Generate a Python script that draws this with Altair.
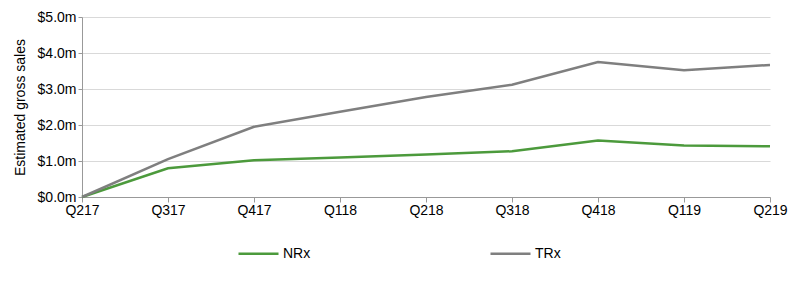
import altair as alt
import pandas as pd

quarters = ["Q217", "Q317", "Q417", "Q118", "Q218", "Q318", "Q418", "Q119", "Q219"]
nrx = [0.0, 0.80, 1.02, 1.10, 1.18, 1.27, 1.57, 1.43, 1.41]
trx = [0.0, 1.05, 1.95, 2.37, 2.78, 3.12, 3.75, 3.52, 3.67]
series = ["NRx", "TRx"]
colors = ["#4C9A3C", "#7F7F7F"]

rows = []
for q, a, b in zip(quarters, nrx, trx):
    rows.append({"quarter": q, "series": "NRx", "value": a})
    rows.append({"quarter": q, "series": "TRx", "value": b})
df = pd.DataFrame(rows)

FONT = "Liberation Sans, Arial, sans-serif"
FS = 14

chart = alt.Chart(df).mark_line(strokeWidth=2.5).encode(
    x=alt.X("quarter:N", sort=quarters,
            scale=alt.Scale(type="point", padding=0),
            axis=alt.Axis(title=None, labelAngle=0, grid=False, ticks=True,
                          tickSize=5, tickColor="#999999", domainColor="#999999",
                          labelFontSize=FS, labelColor="#000000", labelPadding=1,
                          labelFont=FONT)),
    y=alt.Y("value:Q", scale=alt.Scale(domain=[0, 5]),
            axis=alt.Axis(title="Estimated gross sales", values=[0, 1, 2, 3, 4, 5],
                          labelExpr="'$' + format(datum.value, '.1f') + 'm'",
                          grid=True, gridColor="#d9d9d9", ticks=True, tickSize=4,
                          tickColor="#999999", domainColor="#999999",
                          labelFontSize=FS, labelColor="#000000", labelFont=FONT,
                          titleFont=FONT, titleFontSize=FS, titleFontWeight="normal",
                          titleColor="#000000", titlePadding=10)),
    color=alt.Color("series:N", scale=alt.Scale(domain=series, range=colors),
                    legend=alt.Legend(title=None, orient="none", direction="horizontal",
                                      legendX=155, legendY=215,
                                      symbolType="stroke", symbolSize=1600,
                                      symbolStrokeWidth=2.5, labelFontSize=FS,
                                      labelFont=FONT, labelColor="#000000",
                                      columnPadding=174, labelOffset=3)),
).properties(
    width=688, height=180,
    autosize=alt.AutoSizeParams(type="none"),
    padding={"left": 82, "top": 17, "right": 30, "bottom": 97},
).configure_view(stroke=None)

chart.save("out.html", embed_options={"renderer": "svg", "actions": False})
